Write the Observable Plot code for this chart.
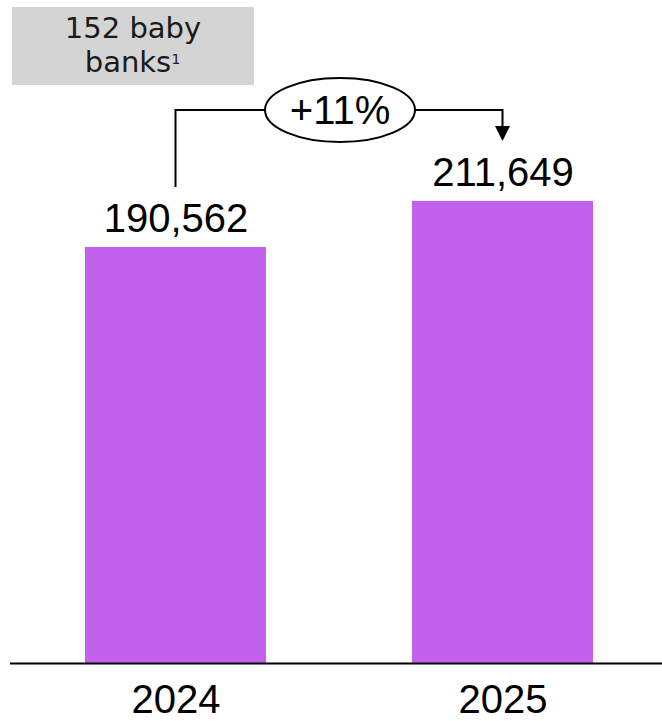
<!DOCTYPE html>
<html><head><meta charset="utf-8">
<script src="https://cdn.jsdelivr.net/npm/d3@7"></script>
<script src="https://cdn.jsdelivr.net/npm/@observablehq/plot@0.6"></script>
<style>
html,body{margin:0;padding:0;background:#fff;}
</style>
</head><body><div id="chart"></div>
<script>
const years = ["2024", "2025"];
const values = [190562, 211649];
const noteLines = ["152 baby", "banks"];
const noteSup = "1";

const data = years.map((year, i) => ({year, value: values[i]}));
const growth = values[1] / values[0] - 1;
const growthLabel = `+${Math.round(growth * 100)}%`;

const FONT = "'Liberation Sans', Arial, sans-serif";
const NOTE_FONT = "'DejaVu Sans', sans-serif";
const W = 662, H = 721;
const BAR = "#c261eb";

function connector(index, scales, vals, dims, context) {
  const x = scales.x, y = scales.y;
  const bw = x.bandwidth ? x.bandwidth() : 182;
  const x0 = x(years[0]) + bw / 2, x1 = x(years[1]) + bw / 2;
  const ya0 = y(values[0]) - 60, ya1 = y(values[1]) - 60;
  const yb = y(Math.max(...values)) - 91;
  const xm = (x0 + x1) / 2 + 1, rx = 75, ry = 32;
  const g = d3.create("svg:g");
  g.append("path")
    .attr("d", `M${x0},${ya0}V${yb}H${xm - rx}M${xm + rx},${yb}H${x1}V${ya1 - 13}`)
    .attr("fill", "none").attr("stroke", "#000").attr("stroke-width", 2);
  g.append("path")
    .attr("d", `M${x1 - 7.5},${ya1 - 15}L${x1 + 7.5},${ya1 - 15}L${x1},${ya1}Z`)
    .attr("fill", "#000");
  g.append("ellipse")
    .attr("cx", xm).attr("cy", yb).attr("rx", rx).attr("ry", ry)
    .attr("fill", "#fff").attr("stroke", "#000").attr("stroke-width", 2);
  g.append("text")
    .attr("x", xm).attr("y", yb + 14)
    .attr("text-anchor", "middle")
    .attr("font-size", 40).attr("font-family", FONT).attr("fill", "#000")
    .text(growthLabel);
  return g.node();
}

function note(index, scales, vals, dims, context) {
  const g = d3.create("svg:g");
  g.append("rect").attr("x", 12).attr("y", 7).attr("width", 242).attr("height", 78).attr("fill", "#d4d4d4");
  g.append("text").attr("text-anchor", "middle").attr("font-size", 29)
    .attr("font-family", NOTE_FONT).attr("fill", "#1a1a1a")
    .attr("x", 133).attr("y", 38).text(noteLines[0]);
  const l2 = g.append("text").attr("text-anchor", "middle").attr("font-size", 29)
    .attr("font-family", NOTE_FONT).attr("fill", "#1a1a1a")
    .attr("x", 128).attr("y", 72).text(noteLines[1]);
  const w = l2.node().getComputedTextLength ? l2.node().getComputedTextLength() : 85;
  g.append("text").attr("text-anchor", "start").attr("font-size", 14)
    .attr("font-family", NOTE_FONT).attr("fill", "#1a1a1a")
    .attr("x", 128 + (w || 85) / 2 + 1).attr("y", 64).text(noteSup);
  return g.node();
}

const chart = Plot.plot({
  width: W, height: H,
  marginTop: 0, marginBottom: 58, marginLeft: 10, marginRight: 0,
  x: {domain: years, paddingInner: 0.445, paddingOuter: 0.2165, align: 0.521, label: null},
  y: {domain: [0, 303700], axis: null},
  style: {fontFamily: FONT, background: "#fff", color: "#000"},
  marks: [
    Plot.barY(data, {x: "year", y: "value", fill: BAR}),
    Plot.ruleY([0], {stroke: "#000", strokeWidth: 2}),
    Plot.axisX({tickSize: 0, tickPadding: 21, fontSize: 40, fill: "#000", label: null}),
    Plot.text(data, {x: "year", y: "value", text: d => d3.format(",")(d.value), lineAnchor: "bottom", dy: -15, fontSize: 40, fill: "#000"}),
    connector,
    note
  ]
});
document.getElementById("chart").appendChild(chart);
</script>
</body></html>
